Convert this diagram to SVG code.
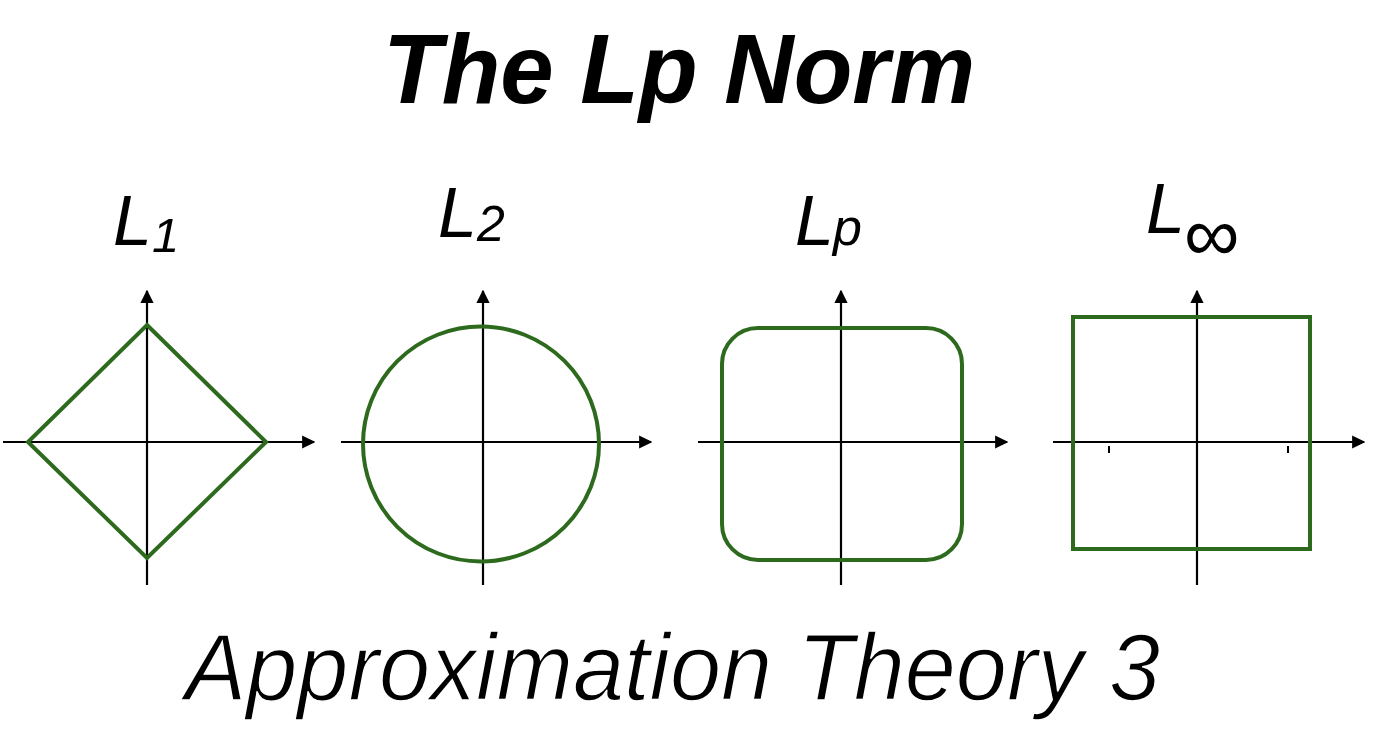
<svg xmlns="http://www.w3.org/2000/svg" width="1398" height="754" viewBox="0 0 1398 754">
<defs>
<marker id="arr" viewBox="0 0 10 10" refX="9" refY="5" markerWidth="6" markerHeight="6" orient="auto" markerUnits="strokeWidth">
<path d="M0,0 L10,5 L0,10 z" fill="#000"/>
</marker>
<style>
.axis{stroke:#000;stroke-width:2.2;fill:none}
.shape{stroke:#2d6a1e;stroke-width:4;fill:none}
.lbl{font-family:"Liberation Sans",Arial,sans-serif;font-style:italic;fill:#000}
.tick{stroke:#000;stroke-width:2}
</style>
</defs>
<rect width="1398" height="754" fill="#fff"/>
<text id="title" class="lbl" x="383" y="103" font-size="99" font-weight="bold" textLength="592" lengthAdjust="spacingAndGlyphs">The Lp Norm</text>
<g id="label-L1"><text class="lbl" x="113" y="245" font-size="70">L<tspan font-size="49" dy="7">1</tspan></text></g>
<g id="label-L2"><text class="lbl" x="438" y="237" font-size="70">L<tspan font-size="50" dy="4">2</tspan></text></g>
<g id="label-Lp"><text class="lbl" x="795" y="245" font-size="70">L<tspan font-size="52" dx="-1">p</tspan></text></g>
<g id="label-Linf"><text class="lbl" x="1146" y="233" font-size="70">L<tspan font-size="78" dx="-1" dy="28" font-style="normal">∞</tspan></text></g>
<g id="connectors">
<line class="axis" x1="3" y1="442" x2="314" y2="442" marker-end="url(#arr)"/>
<line class="axis" x1="147" y1="585" x2="147" y2="291" marker-end="url(#arr)"/>
<line class="axis" x1="341" y1="442" x2="651" y2="442" marker-end="url(#arr)"/>
<line class="axis" x1="483" y1="585" x2="483" y2="291" marker-end="url(#arr)"/>
<line class="axis" x1="698" y1="442" x2="1007" y2="442" marker-end="url(#arr)"/>
<line class="axis" x1="841" y1="585" x2="841" y2="291" marker-end="url(#arr)"/>
<line class="axis" x1="1053" y1="442" x2="1364" y2="442" marker-end="url(#arr)"/>
<line class="axis" x1="1197" y1="585" x2="1197" y2="291" marker-end="url(#arr)"/>
</g>
<g id="diamond"><polygon class="shape" points="147,325 266,442 147,558 28,442"/></g>
<g id="circle"><ellipse class="shape" cx="481" cy="444" rx="118" ry="117.5"/></g>
<g id="rounded-square"><rect class="shape" x="722" y="328" width="240" height="232" rx="36" ry="36"/></g>
<g id="square">
<rect class="shape" x="1073" y="317" width="237" height="232"/>
<line class="tick" x1="1109" y1="446" x2="1109" y2="453"/>
<line class="tick" x1="1288" y1="446" x2="1288" y2="453"/>
</g>
<text id="subtitle" class="lbl" x="185" y="700" font-size="95" textLength="975" lengthAdjust="spacingAndGlyphs" stroke="#fff" stroke-width="1.4">Approximation Theory 3</text>
</svg>
